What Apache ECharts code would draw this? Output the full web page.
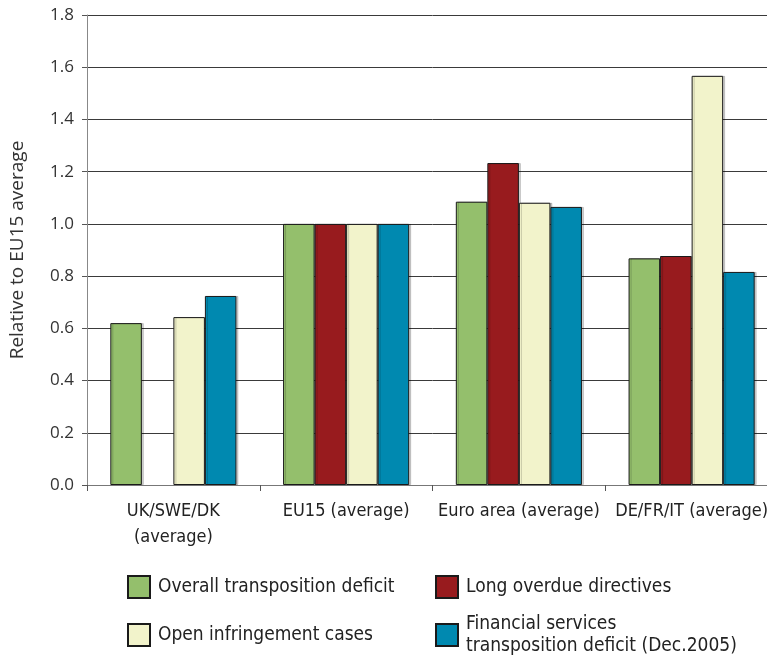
<!DOCTYPE html>
<html><head><meta charset="utf-8">
<script src="https://cdn.jsdelivr.net/npm/echarts@6/dist/echarts.min.js"></script>
<style>html,body{margin:0;padding:0;background:#fff;overflow:hidden}#c{width:778px;height:655px}</style>
</head><body><div id="c"></div>
<script>
var categories = ['UK/SWE/DK\n(average)', 'EU15 (average)', 'Euro area (average)', 'DE/FR/IT (average)'];
var seriesNames = ['Overall transposition deficit', 'Long overdue directives', 'Open infringement cases', 'Financial services transposition deficit (Dec.2005)'];
var overall = [0.62, 1.0, 1.085, 0.868];
var overdue = [null, 1.0, 1.233, 0.877];
var infringement = [0.643, 1.0, 1.081, 1.567];
var financial = [0.724, 1.0, 1.065, 0.816];
var yTicks = [0, 0.2, 0.4, 0.6, 0.8, 1.0, 1.2, 1.4, 1.6, 1.8];
var colors = ['#94bf6c', '#981b1e', '#f2f3cb', '#0089b0'];

var narrow = '"Liberation Sans Narrow", "DejaVu Sans Condensed", sans-serif';
var chart = echarts.init(document.getElementById('c'));
function mk(i, data) {
  return {
    name: seriesNames[i], type: 'bar', data: data, barGap: '0%', barCategoryGap: '27%',
    itemStyle: { color: colors[i], borderColor: '#1a1a1a', borderWidth: 1,
      shadowColor: 'rgba(0,0,0,0.18)', shadowOffsetX: 2, shadowOffsetY: 0, shadowBlur: 0 }
  };
}
function lg(name, left, top, fmt) {
  return { orient: 'horizontal', left: left, top: top, itemWidth: 22, itemHeight: 22, icon: 'rect',
    data: [name], formatter: fmt || '{name}',
    textStyle: { fontFamily: narrow, fontSize: 19, color: '#222', lineHeight: 22, padding: [0, 0, 0, 3] } };
}
chart.setOption({
  animation: false,
  grid: { left: 86, right: 0, top: 15, height: 470, containLabel: false },
  legend: [
    lg(seriesNames[0], 122, 570),
    lg(seriesNames[2], 122, 618),
    lg(seriesNames[1], 430, 570),
    lg(seriesNames[3], 430, 608, function () { return 'Financial services\ntransposition deficit (Dec.2005)'; })
  ],
  xAxis: {
    type: 'category', data: categories,
    axisLine: { lineStyle: { color: '#777', width: 1 } },
    axisTick: { show: true, length: 6, lineStyle: { color: '#555' } },
    axisLabel: { margin: 13, fontFamily: narrow, fontSize: 18, color: '#222', lineHeight: 26, interval: 0 }
  },
  yAxis: {
    type: 'value', min: 0, max: 1.8, interval: 0.2,
    name: 'Relative to EU15 average', nameLocation: 'middle', nameGap: 60, nameRotate: 90,
    nameTextStyle: { fontFamily: 'Open Sans, sans-serif', fontSize: 19, color: '#333' },
    axisLine: { show: true, lineStyle: { color: '#888' } },
    axisTick: { show: true, length: 5, lineStyle: { color: '#555' } },
    axisLabel: { margin: 13, fontFamily: 'Open Sans, sans-serif', fontSize: 17, color: '#333',
      formatter: function (v) { return v.toFixed(1); } },
    splitLine: { show: true, lineStyle: { color: '#3a3a3a', width: 1 } }
  },
  series: [mk(0, overall), mk(1, overdue), mk(2, infringement), mk(3, financial)]
});
</script></body></html>
